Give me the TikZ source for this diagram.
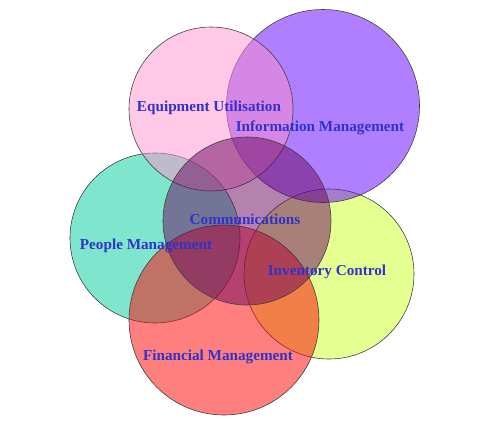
\documentclass[tikz,border=0pt]{standalone}
\usepackage{fontspec}
\setmainfont{Liberation Serif}
\usepackage{tikz}
\usetikzlibrary{positioning}
\definecolor{equipPink}{RGB}{255,145,205}
\definecolor{infoPurple}{RGB}{95,0,255}
\definecolor{peopleTeal}{RGB}{0,205,155}
\definecolor{invLime}{RGB}{205,255,35}
\definecolor{finRed}{RGB}{255,0,0}
\definecolor{commPlum}{RGB}{105,5,95}
\definecolor{lblBlue}{RGB}{50,50,200}
\tikzset{
  area/.style={circle, draw=black!75, line width=0.6pt,
               fill opacity=0.5, inner sep=0pt},
  lbl/.style={font=\fontsize{15.2}{17}\selectfont\bfseries,
              text=lblBlue, inner sep=0pt},
}

\begin{document}
\begin{tikzpicture}[x=1pt, y=-1pt]
  \useasboundingbox (0,0) rectangle (480,442);

  % circles, back to front
  \node[area, fill=invLime,    minimum size=170pt] (inv)   at (329,274) {};
  \node[area, fill=infoPurple, minimum size=193pt] (info)  at (323,106) {};
  \node[area, fill=peopleTeal, minimum size=170pt] (people) at (155,238) {};
  \node[area, fill=equipPink,  minimum size=164pt] (equip) at (211,109) {};
  \node[area, fill=finRed,     minimum size=190pt] (fin)   at (224,320) {};
  \node[area, fill=commPlum,   minimum size=168pt] (comm)  at (247,221) {};

  % labels
  \node[lbl] (equipLbl)  at (209,108) {Equipment Utilisation};
  \node[lbl] (infoLbl)   at (320,128) {Information Management};
  \node[lbl] (commLbl)   at (245,219) {Communications};
  \node[lbl] (peopleLbl) at (146,246) {People Management};
  \node[lbl] (invLbl)    at (327,272) {Inventory Control};
  \node[lbl] (finLbl)    at (218,357) {Financial Management};
\end{tikzpicture}
\end{document}
